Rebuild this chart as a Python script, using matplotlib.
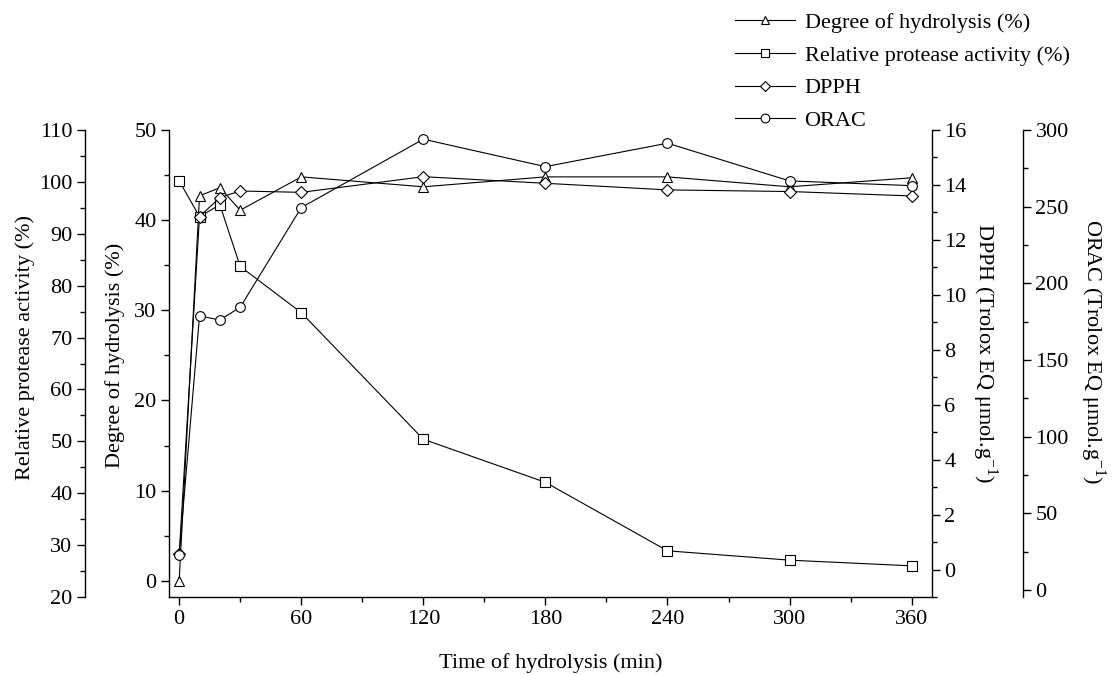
import matplotlib
matplotlib.use("Agg")
from matplotlib import pyplot as plt
from matplotlib.ticker import MultipleLocator

plt.rcParams["font.family"] = ["Liberation Serif", "DejaVu Serif"]
plt.rcParams["mathtext.fontset"] = "custom"
plt.rcParams["mathtext.rm"] = "Liberation Serif"

# Hydrolysis time (min)
time_min = [0, 10, 20, 30, 60, 120, 180, 240, 300, 360]

# Series
degree_hydrolysis = [0.0, 42.7, 43.6, 41.1, 44.8, 43.7, 44.8, 44.8, 43.7, 44.7]
protease_activity = [100.2, 93.3, 95.6, 83.7, 74.8, 50.4, 42.1, 28.9, 27.1, 26.0]
dpph = [0.55, 12.85, 13.54, 13.78, 13.73, 14.3, 14.06, 13.82, 13.76, 13.6]
orac = [22.8, 178.7, 176.1, 184.4, 249.4, 294.0, 276.1, 291.4, 266.8, 263.7]

fs = 16
style = dict(color="black", linewidth=0.8, markersize=7, markeredgewidth=0.8,
             markerfacecolor="white", markeredgecolor="black")

fig = plt.figure(figsize=(11.13, 6.75), dpi=100)
ax = fig.add_axes([169 / 1113, 1 - 597 / 675, 763 / 1113, 467 / 675])
ax_prot = ax.twinx()
ax_dpph = ax.twinx()
ax_orac = ax.twinx()

# Degree of hydrolysis on the main (inner left) axis
h1, = ax.plot(time_min, degree_hydrolysis, marker="^", label="Degree of hydrolysis (%)", **style)
h2, = ax_prot.plot(time_min, protease_activity, marker="s", label="Relative protease activity (%)",
                   **{**style, "markersize": 6.5})
h3, = ax_dpph.plot(time_min, dpph, marker="D", label="DPPH", **{**style, "markersize": 6})
h4, = ax_orac.plot(time_min, orac, marker="o", label="ORAC", **style)

ax.set_xlim(-5, 370)
ax.set_ylim(-1.8, 50)
ax_prot.set_ylim(20, 110)
ax_dpph.set_ylim(-1.0, 16)
ax_orac.set_ylim(-4.6, 300)

ax.xaxis.set_major_locator(MultipleLocator(60))
ax.xaxis.set_minor_locator(MultipleLocator(30))
ax.yaxis.set_major_locator(MultipleLocator(10))
ax.yaxis.set_minor_locator(MultipleLocator(5))
ax_prot.yaxis.set_major_locator(MultipleLocator(10))
ax_prot.yaxis.set_minor_locator(MultipleLocator(5))
ax_dpph.yaxis.set_major_locator(MultipleLocator(2))
ax_dpph.yaxis.set_minor_locator(MultipleLocator(1))
ax_orac.yaxis.set_major_locator(MultipleLocator(50))
ax_orac.yaxis.set_minor_locator(MultipleLocator(25))

# spines
ax.spines["top"].set_visible(False)
ax.spines["right"].set_visible(False)
for a in (ax_prot, ax_dpph, ax_orac):
    a.spines["top"].set_visible(False)
    a.spines["bottom"].set_visible(False)
ax_prot.spines["right"].set_visible(False)
ax_prot.spines["left"].set_visible(True)
ax_prot.spines["left"].set_position(("outward", 84 * 0.72))
ax_prot.yaxis.set_ticks_position("left")
ax_prot.yaxis.set_label_position("left")
ax_dpph.spines["left"].set_visible(False)
ax_orac.spines["left"].set_visible(False)
ax_orac.spines["right"].set_position(("outward", 91 * 0.72))

for a in (ax, ax_prot, ax_dpph, ax_orac):
    for s in a.spines.values():
        s.set_linewidth(1.0)
    a.tick_params(which="major", direction="out", length=6, width=1.0, labelsize=fs, pad=3)
    a.tick_params(which="minor", direction="out", length=3.5, width=1.0)

ax.set_xlabel("Time of hydrolysis (min)", fontsize=fs)
ax.xaxis.set_label_coords(0.5, -0.12)
ax.set_ylabel("Degree of hydrolysis (%)", fontsize=fs)
ax.yaxis.set_label_coords(-0.058, 0.518)
ax_prot.set_ylabel("Relative protease activity (%)", fontsize=fs)
ax_prot.yaxis.set_label_coords(-0.175, 0.534)
ax_dpph.set_ylabel(r"DPPH (Trolox EQ μmol.g$^{-1}$)", fontsize=fs, rotation=270)
ax_dpph.yaxis.set_label_coords(1.089, 0.522)
ax_orac.set_ylabel(r"ORAC (Trolox EQ μmol.g$^{-1}$)", fontsize=fs, rotation=270)
ax_orac.yaxis.set_label_coords(1.230, 0.525)

fig.legend(handles=[h1, h2, h3, h4], loc="upper left", bbox_to_anchor=(0.649, 1.0),
           frameon=False, fontsize=fs, handlelength=2.7, handletextpad=0.45,
           labelspacing=0.55, markerscale=0.9, borderaxespad=0.15)

fig.savefig("out.png", dpi=100)
